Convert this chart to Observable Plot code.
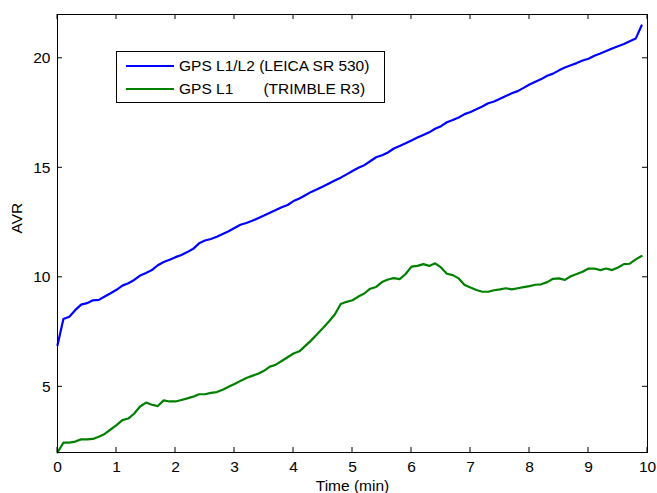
<!DOCTYPE html>
<html><head><meta charset="utf-8">
<script src="https://cdn.jsdelivr.net/npm/d3@7"></script>
<script src="https://cdn.jsdelivr.net/npm/@observablehq/plot@0.6"></script>
<style>
body{margin:0;background:#fff}
svg{font-family:"Liberation Sans",Arial,Helvetica,sans-serif}
</style>
</head><body><div id="chart"></div>
<script>
const time = [0,0.1,0.2,0.3,0.4,0.5,0.6,0.7,0.8,0.9,
  1,1.1,1.2,1.3,1.4,1.5,1.6,1.7,1.8,1.9,
  2,2.1,2.2,2.3,2.4,2.5,2.6,2.7,2.8,2.9,
  3,3.1,3.2,3.3,3.4,3.5,3.6,3.7,3.8,3.9,
  4,4.1,4.2,4.3,4.4,4.5,4.6,4.7,4.8,4.9,
  5,5.1,5.2,5.3,5.4,5.5,5.6,5.7,5.8,5.9,
  6,6.1,6.2,6.3,6.4,6.5,6.6,6.7,6.8,6.9,
  7,7.1,7.2,7.3,7.4,7.5,7.6,7.7,7.8,7.9,
  8,8.1,8.2,8.3,8.4,8.5,8.6,8.7,8.8,8.9,
  9,9.1,9.2,9.3,9.4,9.5,9.6,9.7,9.8,9.9];
const leica = [6.9,8.1,8.2,8.5,8.75,8.82,8.95,8.97,9.12,9.27,
  9.43,9.62,9.73,9.88,10.08,10.2,10.33,10.55,10.7,10.8,
  10.92,11.02,11.15,11.3,11.55,11.68,11.75,11.85,11.98,12.1,
  12.25,12.4,12.48,12.58,12.7,12.82,12.95,13.07,13.2,13.3,
  13.48,13.6,13.75,13.9,14.02,14.15,14.28,14.42,14.55,14.7,
  14.85,15.0,15.12,15.3,15.48,15.57,15.7,15.88,16.0,16.12,
  16.25,16.38,16.5,16.62,16.78,16.9,17.08,17.18,17.3,17.45,
  17.55,17.67,17.8,17.95,18.03,18.15,18.28,18.4,18.5,18.65,
  18.8,18.93,19.05,19.2,19.3,19.45,19.58,19.68,19.78,19.9,
  19.98,20.12,20.22,20.33,20.45,20.55,20.65,20.78,20.9,21.5];
const trimble = [2.0,2.45,2.45,2.5,2.6,2.6,2.62,2.72,2.85,3.05,
  3.25,3.48,3.55,3.78,4.1,4.28,4.18,4.12,4.38,4.33,
  4.33,4.4,4.47,4.55,4.66,4.66,4.72,4.76,4.87,5.0,
  5.13,5.27,5.4,5.5,5.6,5.73,5.92,6.01,6.18,6.35,
  6.52,6.62,6.87,7.12,7.4,7.68,7.98,8.3,8.78,8.88,
  8.95,9.12,9.26,9.48,9.56,9.78,9.9,9.96,9.92,10.15,
  10.49,10.52,10.6,10.52,10.64,10.45,10.16,10.1,9.95,9.65,
  9.53,9.42,9.34,9.34,9.41,9.45,9.5,9.45,9.5,9.55,
  9.6,9.66,9.68,9.78,9.93,9.95,9.88,10.05,10.15,10.25,
  10.4,10.4,10.33,10.4,10.33,10.45,10.6,10.62,10.82,10.97];
const xTicks = [0,1,2,3,4,5,6,7,8,9,10];
const yTicks = [5,10,15,20];
const seriesNames = ["GPS L1/L2 (LEICA SR 530)", "GPS L1       (TRIMBLE R3)"];
const seriesColors = ["#0000ff", "#008000"];
const xLabel = "Time (min)";
const yLabel = "AVR";

(function () {
  const rows = [];
  time.forEach((t, i) => {
    rows.push({t, v: leica[i], s: seriesNames[0]});
    rows.push({t, v: trimble[i], s: seriesNames[1]});
  });

  const plot = Plot.plot({
    width: 657, height: 493,
    marginLeft: 57, marginRight: 10, marginTop: 14, marginBottom: 41,
    style: {fontFamily: '"Liberation Sans",Arial,sans-serif', fontSize: "15px", background: "#fff", color: "#000", overflow: "visible"},
    x: {domain: [0, 10]},
    y: {domain: [2, 22]},
    color: {domain: seriesNames, range: seriesColors},
    marks: [
      Plot.line(rows, {x: "t", y: "v", z: "s", stroke: "s", strokeWidth: 2.2}),
      Plot.frame({stroke: "#000", strokeWidth: 1}),
      Plot.axisX(xTicks, {tickSize: 0, tickPadding: 8, label: null, tickFormat: d => String(d), fontSize: 15.5}),
      Plot.axisY(yTicks, {tickSize: 0, tickPadding: 7, label: null, tickFormat: d => String(d), fontSize: 15.5}),
      Plot.text([xLabel], {frameAnchor: "bottom", dy: 27, lineAnchor: "top", fontSize: 15.5}),
      Plot.text([yLabel], {frameAnchor: "left", dx: -40, rotate: -90, fontSize: 15.5})
    ]
  });
  document.getElementById("chart").appendChild(plot);

  // inward ticks on all four sides (MATLAB style)
  const xs = plot.scale("x"), ys = plot.scale("y");
  const svg = d3.select(plot);
  const x0 = xs.apply(0), x1 = xs.apply(10), yB = ys.apply(2), yT = ys.apply(22);
  const tl = 5;
  const g = svg.append("g").attr("stroke", "#000").attr("stroke-width", 1);
  xTicks.forEach(t => {
    const x = xs.apply(t);
    g.append("line").attr("x1", x).attr("x2", x).attr("y1", yB).attr("y2", yB - tl);
    g.append("line").attr("x1", x).attr("x2", x).attr("y1", yT).attr("y2", yT + tl);
  });
  yTicks.forEach(v => {
    const y = ys.apply(v);
    g.append("line").attr("x1", x0).attr("x2", x0 + tl).attr("y1", y).attr("y2", y);
    g.append("line").attr("x1", x1).attr("x2", x1 - tl).attr("y1", y).attr("y2", y);
  });

  // legend box
  const lg = svg.append("g").attr("text-anchor", "start");
  lg.append("rect").attr("x", 116.5).attr("y", 51.5).attr("width", 268).attr("height", 51)
    .attr("fill", "#fff").attr("stroke", "#000").attr("stroke-width", 1);
  seriesNames.forEach((name, i) => {
    const y = 66 + i * 23;
    lg.append("line").attr("x1", 126).attr("x2", 174).attr("y1", y).attr("y2", y)
      .attr("stroke", seriesColors[i]).attr("stroke-width", 2.2);
    lg.append("text").attr("x", 179).attr("y", y).attr("dy", "0.35em")
      .attr("text-anchor", "start")
      .attr("font-size", 15.5).attr("fill", "#000").style("white-space", "pre")
      .text(name);
  });
})();
</script>
</body></html>
